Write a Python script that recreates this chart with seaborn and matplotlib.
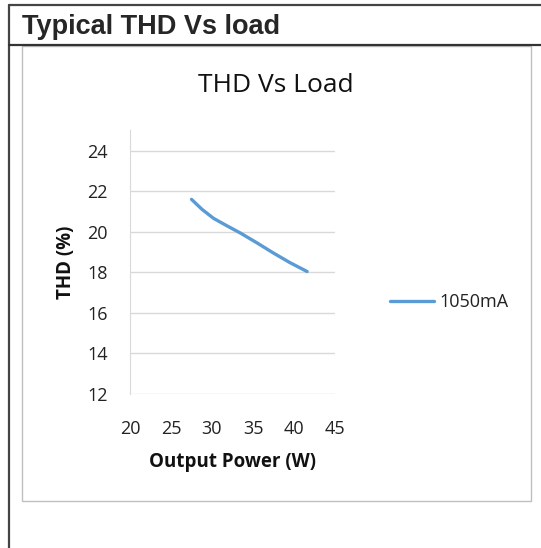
import pandas as pd
import numpy as np
import seaborn as sns
import matplotlib.pyplot as plt
from matplotlib.lines import Line2D
from matplotlib.patches import Rectangle

sns.set_style('white')
plt.rcParams['font.family'] = ['Open Sans', 'DejaVu Sans']

# data
power_w = [27.5, 28.8, 30.2, 31.8, 33.5, 35.5, 37.5, 39.5, 41.6]
thd_pct = [21.6, 21.1, 20.66, 20.3, 19.93, 19.45, 18.95, 18.48, 18.04]
series_name = '1050mA'
y_ticks = [12, 14, 16, 18, 20, 22, 24]
x_ticks = [20, 25, 30, 35, 40, 45]

df = pd.DataFrame({'Output Power (W)': power_w, 'THD (%)': thd_pct,
                   'series': series_name})

W, H = 541, 548
fig = plt.figure(figsize=(W / 100, H / 100), dpi=100)


def fx(px):
    return px / W


def fy(py):
    return 1 - py / H


# outer frame and header
fig.add_artist(Line2D([fx(9), 1], [fy(5), fy(5)], color='#444444', lw=1.6))
fig.add_artist(Line2D([fx(9), fx(9)], [fy(5), 0], color='#444444', lw=1.6))
fig.add_artist(Line2D([fx(9), 1], [fy(45), fy(45)], color='#333333', lw=1.6))
fig.text(fx(22), fy(27), 'Typical THD Vs load', fontsize=19.5, fontweight='bold',
         family='Liberation Sans', va='center', ha='left')
# chart area box
fig.add_artist(Rectangle((fx(22), fy(501)), fx(531) - fx(22), fy(46) - fy(501),
                         fill=False, edgecolor='#bfbfbf', lw=1.0))

ax = fig.add_axes([fx(130), fy(394), fx(335) - fx(130), fy(130) - fy(394)])
sns.lineplot(data=df, x='Output Power (W)', y='THD (%)', hue='series',
             palette=['#5b9bd5'], linewidth=2.4, ax=ax)

ax.set_xlim(20, 45)
ax.set_ylim(12, 25.02)
ax.set_xticks(x_ticks)
ax.set_yticks(y_ticks)
ax.yaxis.grid(True, color='#d9d9d9', lw=1.0)
ax.xaxis.grid(False)
for s in ['top', 'right', 'bottom']:
    ax.spines[s].set_visible(False)
ax.spines['left'].set_color('#d9d9d9')
ax.tick_params(length=0, labelsize=13, colors='#222222')
ax.tick_params(axis='x', pad=19)
ax.tick_params(axis='y', pad=16)
ax.set_xlabel('Output Power (W)', fontsize=13.5, fontweight='bold', labelpad=10,
              color='#111111')
ax.set_ylabel('THD (%)', fontsize=13.5, fontweight='bold', labelpad=8,
              color='#111111')

fig.text(fx(276), fy(86), 'THD Vs Load', fontsize=19, ha='center', va='center',
         color='#111111')

handles, labels = ax.get_legend_handles_labels()
ax.legend(handles, labels, loc='center left', frameon=False, fontsize=13,
          bbox_to_anchor=(fx(374), fy(302)), bbox_transform=fig.transFigure,
          handlelength=2.4, handletextpad=0.3, labelcolor='#222222')

fig.savefig('out.png', dpi=100)
